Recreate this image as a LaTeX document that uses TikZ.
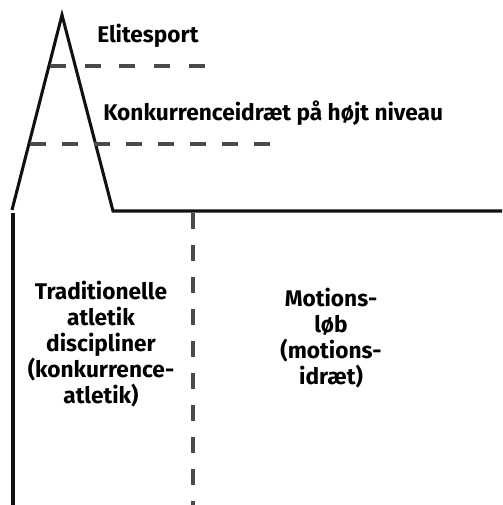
\documentclass[tikz,border=0pt]{standalone}
\usepackage{fontspec}
\setmainfont{Fira Sans}
\usetikzlibrary{positioning}
\definecolor{Ink}{HTML}{111111}
\definecolor{Dash}{HTML}{4A4A4A}

\begin{document}
\begin{tikzpicture}[x=0.75pt,y=-0.75pt,
      outline/.style={draw=Ink,line width=2.3pt,line join=miter},
      level/.style={draw=Dash,line width=2.4pt,dash pattern=on 12pt off 14pt},
      split/.style={draw=Dash,line width=2.3pt,dash pattern=on 12pt off 12pt},
      lbl/.style={font=\fontsize{17}{19.5}\selectfont\bfseries,inner sep=0pt},
      block/.style={lbl,align=center}]
      \useasboundingbox (0,0) rectangle (502,505);
      % peak and base line
      \coordinate (peak) at (62,15);
      \coordinate (lfoot) at (12,210);
      \coordinate (rfoot) at (113,211);
      \coordinate (rend) at (502,211);
      \coordinate (ltop) at (13,213);
      \coordinate (lbot) at (13,505);
      \draw[outline] (lfoot) -- (peak) -- (rfoot) -- (rend);
      \draw[outline] (ltop) -- (lbot);
      % levels
      \coordinate (elA) at (50,66);
      \coordinate (elB) at (210,66);
      \coordinate (koA) at (30,144);
      \coordinate (koB) at (270,144);
      \draw[level] (elA) -- (elB);
      \draw[level,dash pattern=on 12pt off 12pt] (koA) -- (koB);
      \coordinate (spT) at (193,213);
      \coordinate (spB) at (193,505);
      \draw[split] (spT) -- (spB);
      % labels
      \node[lbl,anchor=base west] (elite) at (97,43) {Elitesport};
      \node[lbl,anchor=base west] (konk) at (103,121) {Konkurrenceidræt på højt niveau};
      \node[block] (trad) at (101,344)
        {Traditionelle\\atletik\\discipliner\\(konkurrence-\\atletik)};
      \node[block] (motion) at (331,338)
        {Motions-\\løb\\(motions-\\idræt)};
    \end{tikzpicture}
\end{document}
